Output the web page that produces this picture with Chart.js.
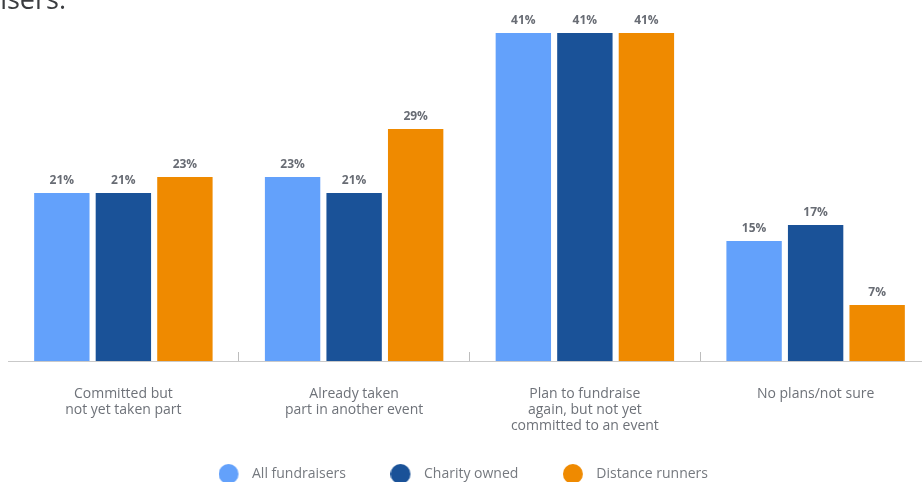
<!DOCTYPE html>
<html>
<head>
<meta charset="utf-8">
<script src="https://cdn.jsdelivr.net/npm/chart.js@4/dist/chart.umd.min.js"></script>
<style>
  body { margin: 0; overflow: hidden; background: #fff; }
  #wrap { position: relative; width: 940px; height: 491px; }
  #heading {
    position: absolute; left: -300px; top: -15px; width: 366px;
    text-align: right; font: 27px/1 "Open Sans", sans-serif; color: #3b3d40;
    white-space: nowrap;
  }
</style>
</head>
<body>
<div id="wrap">
  <div id="heading">fundraisers:</div>
  <canvas id="myChart" width="940" height="491"></canvas>
</div>
<script>
var categories = [
    ['Committed but', 'not yet taken part'],
    ['Already taken', 'part in another event'],
    ['Plan to fundraise', 'again, but not yet', 'committed to an event'],
    ['No plans/not sure']
];
var seriesNames = ['All fundraisers', 'Charity owned', 'Distance runners'];
var allFundraisers = [21, 23, 41, 15];
var charityOwned = [21, 21, 41, 17];
var distanceRunners = [23, 29, 41, 7];
var colors = ['#63a1fb', '#1a5298', '#ef8a00'];

// legend dot: circle sits left of the box so the label gets more room
function makeDot (color) {
    var c = document.createElement('canvas');
    c.width = 39;
    c.height = 20;
    var g = c.getContext('2d');
    g.fillStyle = color;
    g.beginPath();
    g.arc(10, 10, 10, 0, Math.PI * 2);
    g.fill();
    return c;
}
var dots = colors.map(makeDot);

// percentage text above each bar
var valueLabels = {
    id: 'valueLabels',
    afterDatasetsDraw: function (chart) {
        var ctx = chart.ctx;
        ctx.save();
        ctx.font = 'bold 12px "Open Sans"';
        ctx.fillStyle = '#686c74';
        ctx.textAlign = 'center';
        chart.data.datasets.forEach(function (ds, i) {
            chart.getDatasetMeta(i).data.forEach(function (bar, j) {
                ctx.fillText(ds.data[j] + '%', bar.x, bar.y - 12);
            });
        });
        ctx.restore();
    }
};

var ctx = document.getElementById('myChart').getContext('2d');
var myChart = new Chart(ctx, {
    type: 'bar',
    data: {
        labels: categories,
        datasets: [
            { label: seriesNames[0], data: allFundraisers, backgroundColor: colors[0] },
            { label: seriesNames[1], data: charityOwned, backgroundColor: colors[1] },
            { label: seriesNames[2], data: distanceRunners, backgroundColor: colors[2] }
        ]
    },
    options: {
        responsive: false,
        animation: false,
        layout: { padding: { top: 1, left: 8, right: 9, bottom: 0 } },
        categoryPercentage: 0.8,
        barPercentage: 0.9,
        scales: {
            y: { display: false, min: 0, max: 45 },
            x: {
                border: { display: true, color: '#c9c9c9', width: 1 },
                grid: {
                    offset: true,
                    drawOnChartArea: false,
                    drawTicks: true,
                    tickLength: -9,
                    tickColor: function (c) { return c.index === 0 ? 'rgba(0,0,0,0)' : '#bdbdbd'; }
                },
                // mirrored so the three-line labels are not cut at the scale box
                ticks: {
                    mirror: true,
                    padding: -41,
                    color: '#6e7279',
                    font: { family: 'Open Sans', size: 14, lineHeight: 1.15 }
                },
                afterFit: function (scale) { scale.height = 49; }
            }
        },
        plugins: {
            tooltip: { enabled: false },
            legend: {
                position: 'bottom',
                labels: {
                    usePointStyle: true,
                    padding: 57,
                    color: '#75797f',
                    font: { family: 'Open Sans', size: 14 },
                    generateLabels: function (chart) {
                        return Chart.defaults.plugins.legend.labels.generateLabels(chart).map(function (item, i) {
                            item.pointStyle = dots[i];
                            return item;
                        });
                    }
                }
            }
        }
    },
    plugins: [valueLabels]
});
</script>
</body>
</html>
